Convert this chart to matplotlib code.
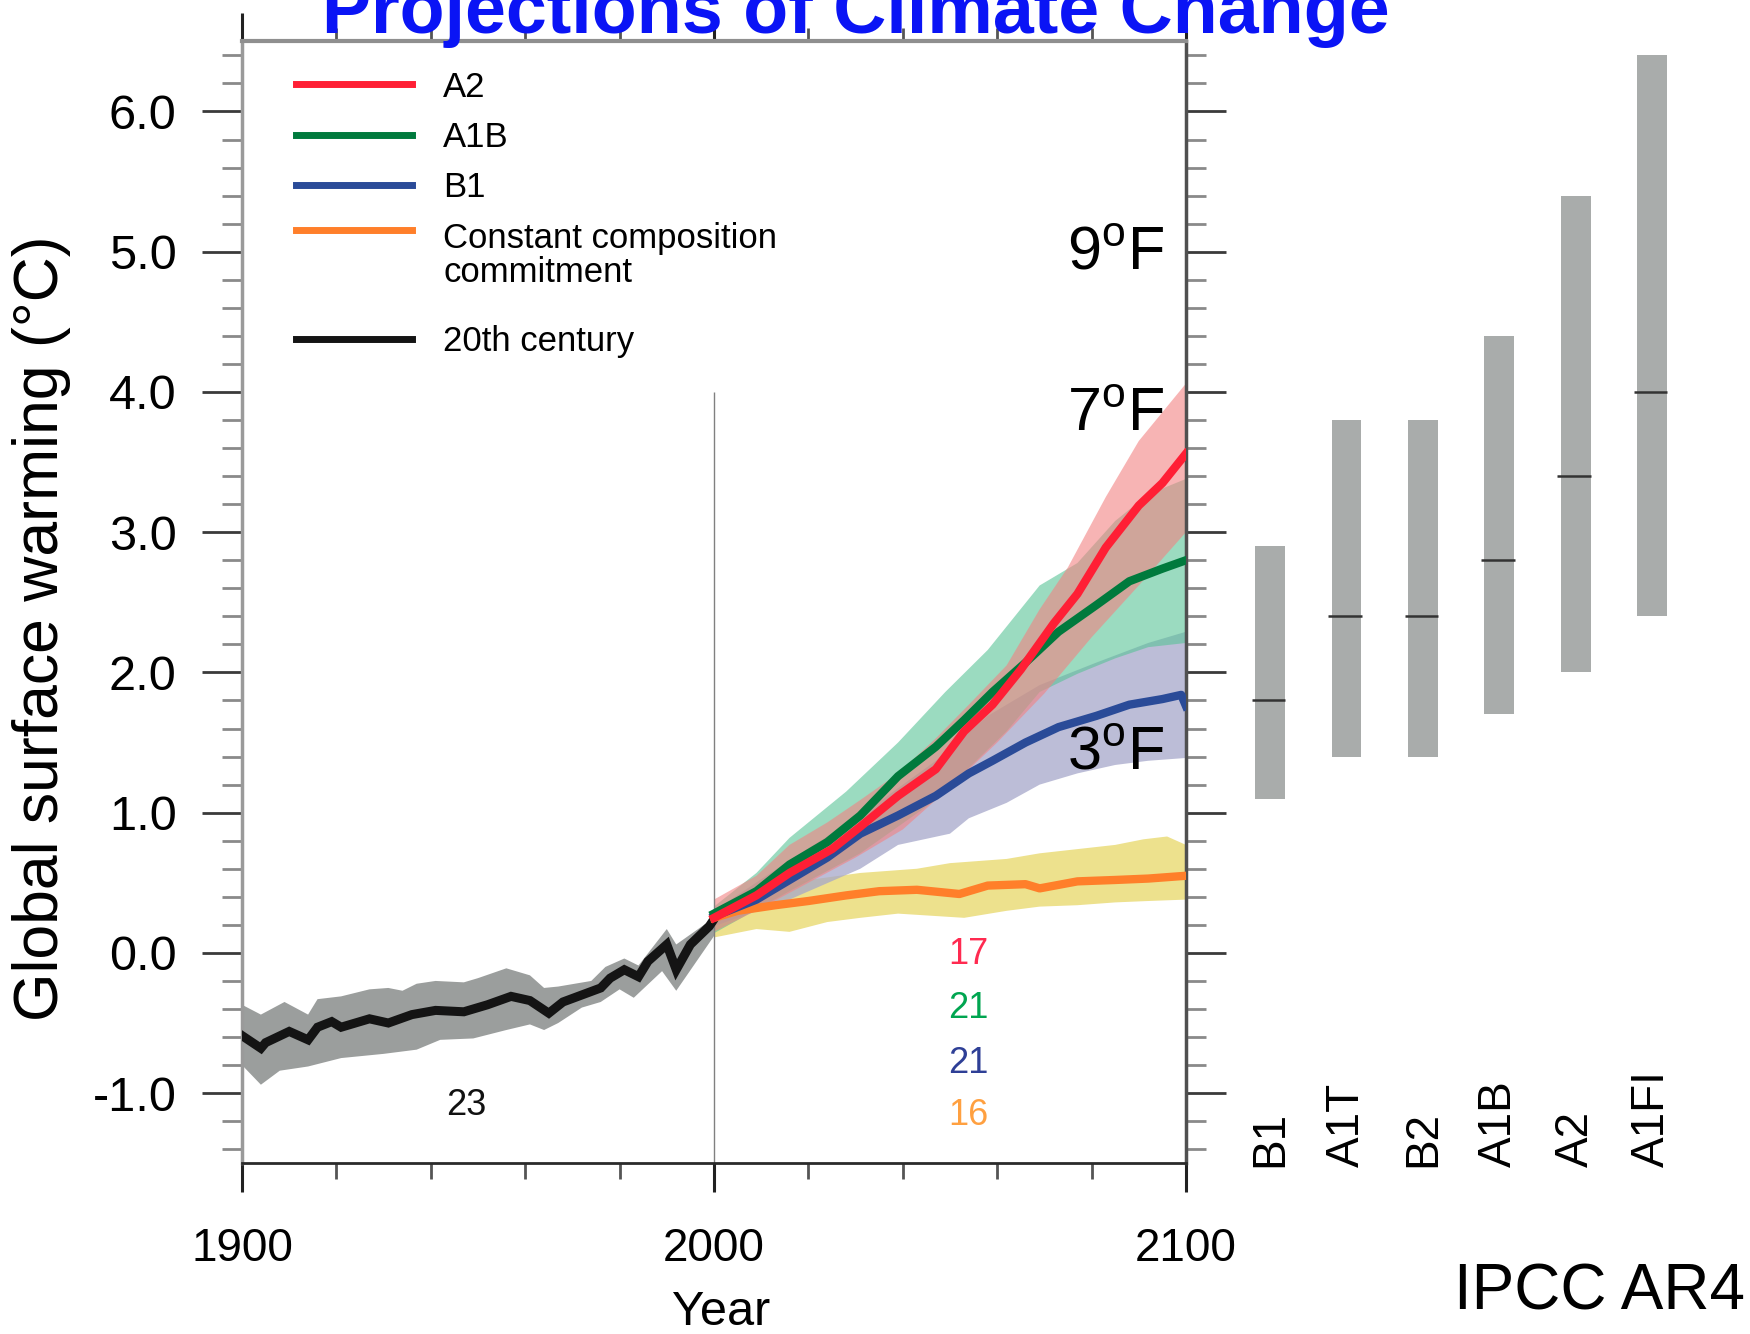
import numpy as np
import matplotlib.pyplot as plt
from matplotlib import font_manager
from matplotlib.lines import Line2D

installed = {f.name for f in font_manager.fontManager.ttflist}
narrow = 'Liberation Sans Narrow' if 'Liberation Sans Narrow' in installed else 'Liberation Sans'

plt.rcParams['font.family'] = ['Liberation Sans', 'DejaVu Sans']
plt.rcParams['mathtext.fontset'] = 'custom'
plt.rcParams['mathtext.rm'] = 'Liberation Sans'

# ---- 20th century (model mean and spread) ----
hist_years = [1900, 1904, 1905, 1910, 1914, 1916, 1919, 1921, 1927, 1931, 1936, 1941, 1947, 1952,
              1957, 1961, 1965, 1968, 1972, 1976, 1978, 1981, 1984, 1986, 1990, 1992, 1995, 1999, 2000]
hist_mean = [-0.59, -0.68, -0.64, -0.56, -0.62, -0.53, -0.49, -0.53, -0.47, -0.50, -0.44, -0.41, -0.42, -0.37,
             -0.31, -0.34, -0.43, -0.35, -0.30, -0.25, -0.18, -0.12, -0.17, -0.06, 0.06, -0.12, 0.06, 0.19, 0.24]
hist_up_years = [1900, 1904, 1909, 1914, 1916, 1921, 1927, 1931, 1934, 1937, 1941, 1947, 1950, 1956,
                 1961, 1964, 1967, 1974, 1977, 1981, 1984, 1990, 1992, 2000]
hist_up = [-0.37, -0.44, -0.35, -0.44, -0.33, -0.31, -0.26, -0.25, -0.27, -0.22, -0.20, -0.21, -0.18, -0.11,
           -0.16, -0.25, -0.24, -0.20, -0.10, -0.04, -0.09, 0.17, 0.06, 0.25]
hist_lo_years = [1900, 1904, 1908, 1914, 1921, 1930, 1937, 1942, 1949, 1956, 1961, 1964, 1967, 1972,
                 1976, 1980, 1983, 1989, 1992, 2000]
hist_lo = [-0.80, -0.94, -0.84, -0.81, -0.75, -0.72, -0.69, -0.62, -0.61, -0.55, -0.51, -0.55, -0.50, -0.39,
           -0.35, -0.26, -0.32, -0.13, -0.27, 0.12]

# ---- scenario A2 ----
a2_years = [2000, 2009, 2016, 2025, 2031, 2039, 2047, 2053, 2059, 2065, 2072, 2077, 2083, 2090, 2095, 2100]
a2_mean = [0.25, 0.41, 0.57, 0.74, 0.90, 1.12, 1.31, 1.58, 1.77, 2.02, 2.35, 2.56, 2.89, 3.19, 3.35, 3.56]
a2_up_years = [2000, 2009, 2016, 2024, 2031, 2039, 2047, 2054, 2062, 2069, 2075, 2083, 2090, 2100]
a2_up = [0.38, 0.55, 0.77, 0.93, 1.09, 1.28, 1.53, 1.77, 2.05, 2.45, 2.75, 3.25, 3.65, 4.06]
a2_lo_years = [2000, 2010, 2020, 2030, 2040, 2050, 2060, 2070, 2080, 2090, 2100]
a2_lo = [0.15, 0.32, 0.50, 0.68, 0.88, 1.18, 1.50, 1.85, 2.25, 2.62, 3.00]

# ---- scenario A1B ----
a1b_years = [2000, 2009, 2016, 2024, 2031, 2039, 2047, 2053, 2059, 2066, 2073, 2081, 2088, 2095, 2100]
a1b_mean = [0.28, 0.44, 0.63, 0.79, 0.98, 1.26, 1.47, 1.66, 1.86, 2.07, 2.29, 2.48, 2.65, 2.74, 2.80]
a1b_up_years = [2000, 2009, 2016, 2028, 2039, 2049, 2058, 2069, 2077, 2085, 2092, 2100]
a1b_up = [0.33, 0.57, 0.82, 1.15, 1.50, 1.86, 2.16, 2.62, 2.78, 3.08, 3.27, 3.38]
a1b_lo_years = [2000, 2016, 2031, 2047, 2062, 2069, 2077, 2085, 2092, 2100]
a1b_lo = [0.14, 0.44, 0.71, 1.09, 1.58, 1.86, 1.99, 2.10, 2.18, 2.21]

# ---- scenario B1 ----
b1_years = [2000, 2009, 2016, 2024, 2031, 2039, 2047, 2054, 2059, 2066, 2073, 2081, 2088, 2095, 2099, 2100]
b1_mean = [0.26, 0.38, 0.52, 0.68, 0.85, 0.98, 1.12, 1.28, 1.37, 1.50, 1.61, 1.69, 1.77, 1.81, 1.84, 1.76]
b1_up_years = [2000, 2016, 2031, 2047, 2058, 2069, 2081, 2092, 2100]
b1_up = [0.30, 0.66, 0.98, 1.37, 1.69, 1.91, 2.07, 2.21, 2.29]
b1_lo_years = [2000, 2016, 2031, 2039, 2050, 2054, 2062, 2069, 2077, 2085, 2092, 2100]
b1_lo = [0.19, 0.38, 0.60, 0.77, 0.85, 0.96, 1.07, 1.20, 1.28, 1.34, 1.37, 1.39]

# ---- constant composition commitment ----
cc_years = [2000, 2005, 2013, 2020, 2028, 2035, 2043, 2052, 2058, 2066, 2069, 2077, 2085, 2092, 2100]
cc_mean = [0.25, 0.30, 0.34, 0.37, 0.41, 0.44, 0.45, 0.42, 0.48, 0.49, 0.46, 0.51, 0.52, 0.53, 0.55]
cc_up_years = [2000, 2009, 2020, 2031, 2043, 2050, 2062, 2069, 2077, 2085, 2091, 2096, 2100]
cc_up = [0.30, 0.44, 0.52, 0.57, 0.60, 0.64, 0.67, 0.71, 0.74, 0.77, 0.81, 0.83, 0.77]
cc_lo_years = [2000, 2009, 2016, 2024, 2031, 2039, 2053, 2062, 2069, 2077, 2085, 2092, 2100]
cc_lo = [0.11, 0.17, 0.15, 0.22, 0.25, 0.28, 0.25, 0.30, 0.33, 0.34, 0.36, 0.37, 0.38]

# ---- number of models ----
model_counts = ['23', '17', '21', '21', '16']
count_years = [1947.5, 2053.8, 2053.8, 2053.8, 2053.8]
count_vals = [-1.09, -0.01, -0.40, -0.79, -1.16]
count_colors = ['#111111', '#ff2a50', '#00a550', '#2e3f96', '#ffa040']

# ---- likely ranges at 2090-2099 ----
bar_names = ['B1', 'A1T', 'B2', 'A1B', 'A2', 'A1FI']
bar_low = [1.1, 1.4, 1.4, 1.7, 2.0, 2.4]
bar_best = [1.8, 2.4, 2.4, 2.8, 3.4, 4.0]
bar_high = [2.9, 3.8, 3.8, 4.4, 5.4, 6.4]

# ---- Fahrenheit markers ----
f_labels = [r'9$^{\mathrm{o}}$F', r'7$^{\mathrm{o}}$F', r'3$^{\mathrm{o}}$F']
f_vals = [4.87, 3.72, 1.31]


def band(ax, yu, u, yl, l, **kw):
    xs = np.concatenate([yu, yl[::-1]])
    ys = np.concatenate([u, l[::-1]])
    ax.fill(xs, ys, lw=0, **kw)


fig = plt.figure(figsize=(17.5, 13.34), dpi=100)
ax = fig.add_axes([0.1383, 0.128, 0.5394, 0.841])

band(ax, hist_up_years, hist_up, hist_lo_years, hist_lo, color='#9b9e9d', zorder=1)
band(ax, cc_up_years, cc_up, cc_lo_years, cc_lo, color='#ede18d', zorder=1)
band(ax, b1_up_years, b1_up, b1_lo_years, b1_lo, color='#a6a7ca', alpha=0.75, zorder=1.1)
band(ax, a1b_up_years, a1b_up, a1b_lo_years, a1b_lo, color='#58c396', alpha=0.6, zorder=1.2)
band(ax, a2_up_years, a2_up, a2_lo_years, a2_lo, color='#f38282', alpha=0.6, zorder=1.3)

ax.vlines(2000, -1.5, 4.0, color='#808080', lw=1, zorder=1.5)

ax.plot(hist_years, hist_mean, color='#141414', lw=6.5, zorder=3, solid_joinstyle='miter')
ax.plot(cc_years, cc_mean, color='#ff7f2a', lw=6, zorder=3)
ax.plot(b1_years, b1_mean, color='#2a4b98', lw=6, zorder=3.1)
ax.plot(a1b_years, a1b_mean, color='#007a3d', lw=6, zorder=3.2)
ax.plot(a2_years, a2_mean, color='#ff1f35', lw=6, zorder=3.3)

for t, yr, v, c in zip(model_counts, count_years, count_vals, count_colors):
    ax.text(yr, v, t, color=c, ha='center', va='center', fontsize=26, family=narrow, zorder=4)

for t, v in zip(f_labels, f_vals):
    ax.text(2095.3, v, t, ha='right', va='baseline', fontsize=44, zorder=5)

ax.set_xlim(1900, 2100)
ax.set_ylim(-1.5, 6.5)
ax.set_xticks([1900, 2000, 2100])
ax.set_xticks(np.arange(1900, 2101, 20), minor=True)
ax.set_yticks(np.arange(-1, 6.1, 1.0))
ax.set_yticklabels(['%.1f' % v for v in np.arange(-1, 6.1, 1.0)])
ax.set_yticks(np.round(np.arange(-1.4, 6.41, 0.2), 1), minor=True)

ax.tick_params(axis='y', which='major', direction='out', length=29, width=2, color='#3a3a3a',
               left=True, right=True, pad=18, labelsize=35)
ax.tick_params(axis='y', which='minor', direction='out', length=14.5, width=2, color='#8a8a8a',
               left=True, right=True)
ax.tick_params(axis='x', which='major', direction='out', length=21, width=2.2, color='#222222',
               top=True, bottom=True, pad=25, labelsize=33)
ax.tick_params(axis='x', which='minor', direction='out', length=11.5, width=2, color='#555555',
               top=True, bottom=True)
for lab in ax.get_xticklabels() + ax.get_yticklabels():
    lab.set_family(narrow)
for i, tk in enumerate(ax.xaxis.get_major_ticks()):
    tk.tick2line.set_markersize(20 if i == 0 else 9.5)
    tk.tick2line.set_color('#777777')
for tk in ax.xaxis.get_minor_ticks():
    tk.tick2line.set_markersize(9.5)
    tk.tick2line.set_color('#777777')

ax.spines['left'].set(color='#9a9a9a', linewidth=2.5)
ax.spines['right'].set(color='#505050', linewidth=2.5)
ax.spines['top'].set(color='#8f8f8f', linewidth=3)
ax.spines['bottom'].set(color='#2a2a2a', linewidth=2)

ax.set_xlabel('Year', fontsize=35, family=narrow)
ax.xaxis.set_label_coords(0.508, -0.113)
ax.set_ylabel('Global surface warming (°C)', fontsize=45)
ax.yaxis.set_label_coords(-0.181, 0.477)

# legend: scenarios, then the 20th-century entry set a little lower
leg_kw = dict(frameon=False, prop={'family': narrow, 'size': 25}, handlelength=3.35,
              handletextpad=0.9, borderpad=0, borderaxespad=0)
scen_handles = [Line2D([], [], color='#ff1f35', lw=5),
                Line2D([], [], color='#007a3d', lw=5),
                Line2D([], [], color='#2a4b98', lw=5),
                Line2D([], [], color='#ff7f2a', lw=5)]
scen_labels = ['A2', 'A1B', 'B1', 'Constant composition\ncommitment']
leg = ax.legend(scen_handles, scen_labels, loc='upper left', bbox_to_anchor=(0.057, 0.974),
                labelspacing=0.5, **leg_kw)
leg.get_texts()[3].set_linespacing(1.05)
h3 = leg.legend_handles[3]
h3.set_ydata(np.asarray(h3.get_ydata()) + 19)
ax.add_artist(leg)
ax.legend([Line2D([], [], color='#141414', lw=5)], ['20th century'], loc='center left',
          bbox_to_anchor=(0.057, 0.7326), **leg_kw)

# right panel: likely ranges
ax2 = fig.add_axes([0.6777, 0.128, 0.3223, 0.841])
ax2.set_xlim(-1.10, 6.28)
ax2.set_ylim(-1.5, 6.5)
ax2.axis('off')
xpos = np.arange(len(bar_names))
ax2.bar(xpos, np.array(bar_high) - np.array(bar_low), bottom=bar_low, width=0.39, color='#a9acab')
ax2.hlines(bar_best, xpos - 0.24, xpos + 0.2, color='#333333', lw=1.8)
for xp, name in zip(xpos, bar_names):
    ax2.text(xp, -1.525, name, rotation=90, ha='center', va='bottom', fontsize=33, clip_on=False)

fig.text(0.489, 0.9753, 'Projections of Climate Change', ha='center', va='baseline',
         fontsize=53, fontweight='bold', color='#0a14f5')
fig.text(0.997, 0.0187, 'IPCC AR4', ha='right', va='baseline', fontsize=46)

fig.savefig('out.png', dpi=100)
